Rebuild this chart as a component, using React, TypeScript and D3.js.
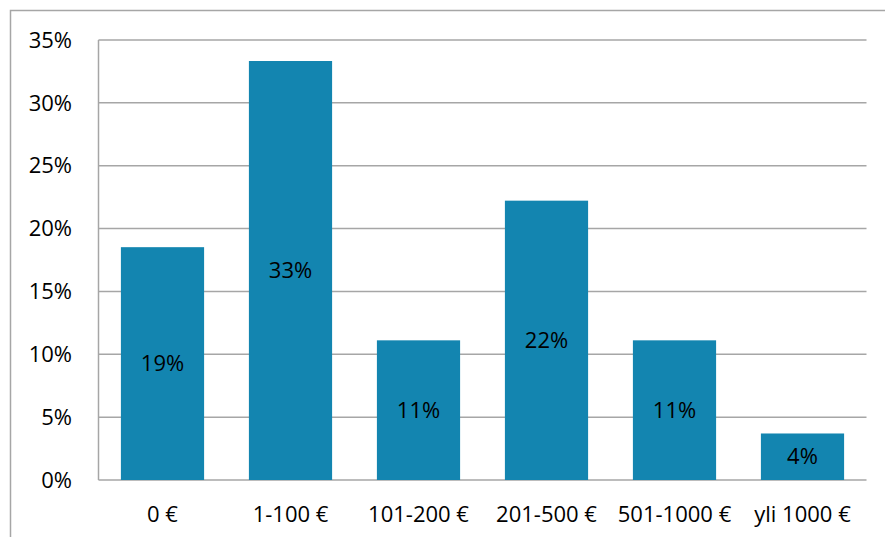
import React from "react";
import * as d3 from "d3";

const categories = ["0 €", "1-100 €", "101-200 €", "201-500 €", "501-1000 €", "yli 1000 €"];
const shares = [18.52, 33.33, 11.11, 22.22, 11.11, 3.7];
const yTicks = [0, 5, 10, 15, 20, 25, 30, 35];

const W = 885;
const H = 537;
const plot = { left: 98.5, right: 866.5, top: 40, bottom: 480 };
const FONT = "'Open Sans', sans-serif";

export default function App() {
  const x = d3
    .scaleBand<string>()
    .domain(categories)
    .range([plot.left, plot.right])
    .paddingInner(0.35)
    .paddingOuter(0.175);
  const y = d3.scaleLinear().domain([0, 35]).range([plot.bottom, plot.top]);

  return (
    <svg
      width={W}
      height={H}
      style={{ position: "fixed", left: 0, top: 0, background: "#fff" }}
    >
      {/* outer chart frame */}
      <path d={`M10.5,${H} V10.5 H${W}`} fill="none" stroke="#a6a6a6" strokeWidth={1.5} />

      {/* gridlines */}
      {yTicks.map((t) => (
        <line
          key={t}
          x1={plot.left}
          x2={plot.right}
          y1={y(t)}
          y2={y(t)}
          stroke="#a6a6a6"
          strokeWidth={1.5}
        />
      ))}
      <line x1={plot.left} x2={plot.left} y1={plot.top} y2={plot.bottom} stroke="#a6a6a6" strokeWidth={1.5} />

      {/* y tick labels */}
      {yTicks.map((t) => (
        <text
          key={t}
          x={72}
          y={y(t)}
          dy="0.35em"
          textAnchor="end"
          fontFamily={FONT}
          fontSize={22}
          fill="#000"
        >
          {`${t}%`}
        </text>
      ))}

      {/* bars */}
      {categories.map((c, i) => (
        <rect
          key={c}
          x={x(c)}
          y={y(shares[i])}
          width={x.bandwidth()}
          height={y(0) - y(shares[i])}
          fill="#1385b0"
        />
      ))}

      {/* value labels */}
      {categories.map((c, i) => (
        <text
          key={c}
          x={(x(c) ?? 0) + x.bandwidth() / 2}
          y={(y(shares[i]) + y(0)) / 2}
          dy="0.35em"
          textAnchor="middle"
          fontFamily={FONT}
          fontSize={22}
          fill="#000"
        >
          {`${Math.round(shares[i])}%`}
        </text>
      ))}

      {/* category labels */}
      {categories.map((c) => (
        <text
          key={c}
          x={(x(c) ?? 0) + x.bandwidth() / 2}
          y={514}
          dy="0.35em"
          textAnchor="middle"
          fontFamily={FONT}
          fontSize={22}
          fill="#000"
        >
          {c}
        </text>
      ))}
    </svg>
  );
}
